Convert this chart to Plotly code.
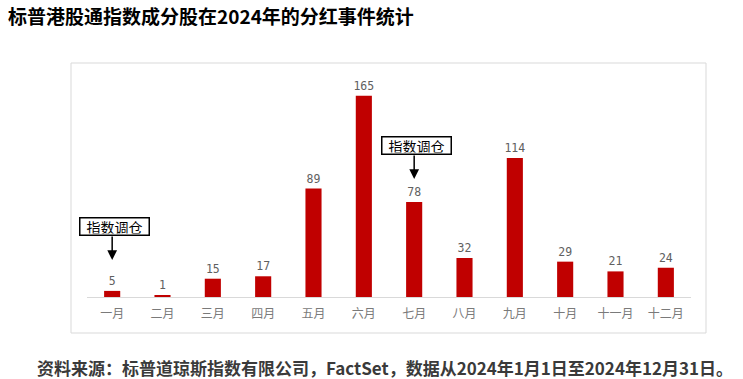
import plotly.graph_objects as go

months = ["一月", "二月", "三月", "四月", "五月", "六月", "七月", "八月", "九月", "十月", "十一月", "十二月"]
counts = [5, 1, 15, 17, 89, 165, 78, 32, 114, 29, 21, 24]
note_months = ["一月", "七月"]
note_tips = [30.3, 96.8]
note_text = "指数调仓"
title = "标普港股通指数成分股在2024年的分红事件统计"
source = "资料来源：标普道琼斯指数有限公司，FactSet，数据从2024年1月1日至2024年12月31日。"

fig = go.Figure(go.Bar(
    x=months, y=counts,
    marker=dict(color="#c00000", line=dict(width=0)),
    text=[str(v) for v in counts], textposition="outside",
    constraintext="none",
    textfont=dict(family="DejaVu Sans Mono", size=11.5, color="#606060"),
    cliponaxis=False,
))

W, H = 743, 379
l, r, t, b = 87, W - 691, 80, 82
PW, PH = W - l - r, H - t - b
fig.update_layout(
    width=W, height=H,
    margin=dict(l=l, r=r, t=t, b=b, autoexpand=False),
    paper_bgcolor="white", plot_bgcolor="white",
    bargap=0.68,
    showlegend=False,
    font=dict(family="Noto Sans CJK SC"),
    xaxis=dict(showgrid=False, showline=True, linecolor="#d9d9d9", linewidth=1,
               range=[-0.5, 11.5], automargin=False,
               ticks="", tickfont=dict(size=12, color="#7a7a7a"), ticklabelstandoff=6),
    yaxis=dict(range=[0, 178], visible=False, showgrid=False),
)

# frame
fig.add_shape(type="rect", xref="paper", yref="paper",
              x0=(71 - l) / PW, x1=(706 - l) / PW, y0=(297 - 333) / PH, y1=(297 - 63) / PH,
              line=dict(color="#d9d9d9", width=1), fillcolor="rgba(0,0,0,0)", layer="below")

# title and source
fig.add_annotation(text="<b>" + title + "</b>", xref="paper", yref="paper",
                   x=(6 - l) / PW, y=(297 - 16) / PH, xanchor="left", yanchor="middle",
                   showarrow=False, font=dict(size=19, color="#000000"))
fig.add_annotation(text="<b>" + source + "</b>", xref="paper", yref="paper",
                   x=(35 - l) / PW, y=(297 - 367) / PH, xanchor="left", yanchor="middle",
                   showarrow=False, font=dict(size=17, color="#3a3a3a"))

for m, tip in zip(note_months, note_tips):
    fig.add_annotation(x=m, y=tip, text="", showarrow=True,
                       arrowhead=2, arrowsize=1.3, arrowwidth=1.5, arrowcolor="#000000",
                       ax=0, ay=-25)
    fig.add_annotation(x=m, y=tip, text=note_text, showarrow=False,
                       yanchor="bottom", yshift=24, xshift=2,
                       width=66, height=14, borderpad=1,
                       bordercolor="#000000", borderwidth=1.5,
                       bgcolor="white", font=dict(size=14, color="#000000"))

fig.write_html("out.html", config={"displayModeBar": False},
               post_script="document.body.style.margin='0';document.body.style.padding='0';")
